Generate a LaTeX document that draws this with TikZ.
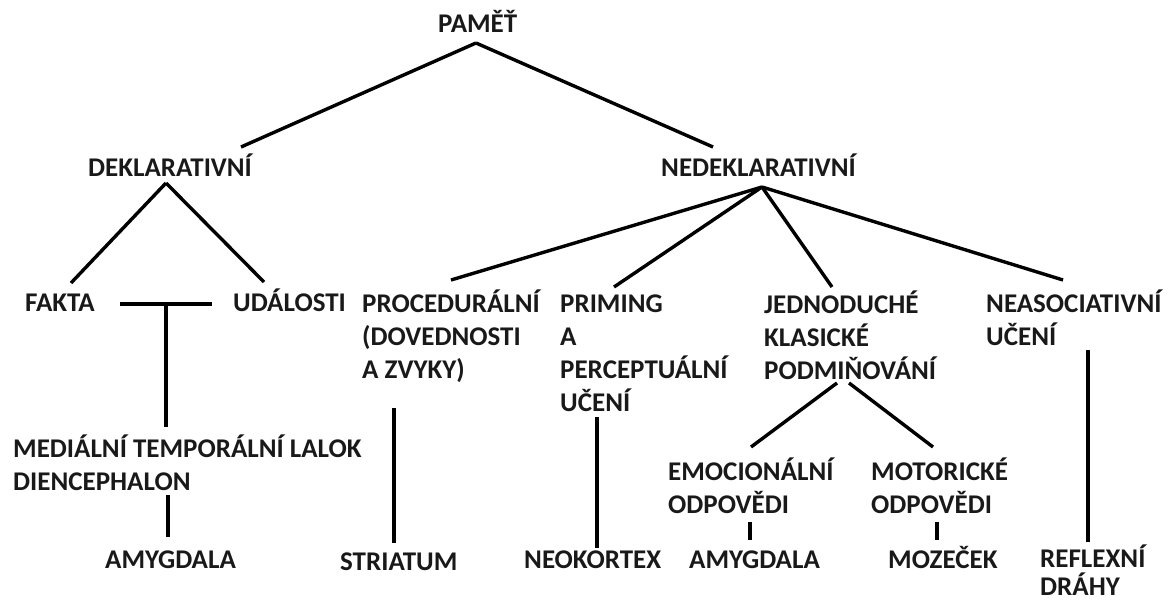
\documentclass[tikz,border=0pt]{standalone}
\usepackage{fontspec}
\setmainfont{Carlito}
\usetikzlibrary{calc}
\begin{document}
\begin{tikzpicture}[x=1pt,y=-1pt,
  lbl/.style={anchor=base west,inner sep=0pt,align=left,font=\fontsize{27}{33}\selectfont\bfseries,text=black!90},
  conn/.style={line width=3.4pt,black}]
\useasboundingbox (0,0) rectangle (1169,601);
% nodes (multi-line nodes are placed at the baseline of their last line)
\node[lbl] (pamet) at (438,33) {PAMĚŤ};
\node[lbl] (dekl) at (88,177) {DEKLARATIVNÍ};
\node[lbl] (nedekl) at (661,177) {NEDEKLARATIVNÍ};
\node[lbl] (fakta) at (25,312) {FAKTA};
\node[lbl] (udalosti) at (233,312) {UDÁLOSTI};
\node[lbl] (proc) at (362,378) {PROCEDURÁLNÍ\\(DOVEDNOSTI\\A ZVYKY)};
\node[lbl] (priming) at (560,411) {PRIMING\\A\\PERCEPTUÁLNÍ\\UČENÍ};
\node[lbl] (jedn) at (764,379) {JEDNODUCHÉ\\KLASICKÉ\\PODMIŇOVÁNÍ};
\node[lbl] (neasoc) at (986,345) {NEASOCIATIVNÍ\\UČENÍ};
\node[lbl] (mtl) at (13,490) {MEDIÁLNÍ TEMPORÁLNÍ LALOK\\DIENCEPHALON};
\node[lbl] (amyg1) at (105,568) {AMYGDALA};
\node[lbl] (striatum) at (340,570) {STRIATUM};
\node[lbl] (neokortex) at (524,568) {NEOKORTEX};
\node[lbl] (emoc) at (668,513) {EMOCIONÁLNÍ\\ODPOVĚDI};
\node[lbl] (amyg2) at (689,568) {AMYGDALA};
\node[lbl] (motor) at (871,513) {MOTORICKÉ\\ODPOVĚDI};
\node[lbl] (mozecek) at (888,568) {MOZEČEK};
\node[lbl] (reflex) at (1040,595) {REFLEXNÍ\\[-5pt]DRÁHY};
% junction points
\coordinate (pa) at ($(pamet.base west)+(38,10)$);
\coordinate (da) at ($(dekl.base west)+(78,6)$);
\coordinate (na) at ($(nedekl.base west)+(101,10)$);
\coordinate (fu) at ($(fakta.base west)+(141,-8)$);
% connectors
\draw[conn] (pa) -- ($(dekl.base west)+(153,-30)$);
\draw[conn] (pa) -- ($(nedekl.base west)+(52,-30)$);
\draw[conn] (da) -- ($(fakta.base west)+(46,-29)$);
\draw[conn] (da) -- ($(udalosti.base west)+(31,-30)$);
\draw[conn] ($(fakta.base east)+(25,-8)$) -- ($(udalosti.base west)+(-21,-8)$);
\draw[conn] (fu) -- ($(mtl.base west)+(153,-63)$);
\draw[conn] ($(mtl.base west)+(155,5)$) -- ($(amyg1.base west)+(63,-31)$);
\draw[conn] (na) -- ($(proc.base west)+(89,-98)$);
\draw[conn] (na) -- ($(priming.base west)+(54,-124)$);
\draw[conn] (na) -- ($(jedn.base west)+(68,-92)$);
\draw[conn] (na) -- ($(neasoc.base west)+(77,-65)$);
\draw[conn] ($(proc.base west)+(32,30)$) -- ($(striatum.base west)+(54,-27)$);
\draw[conn] ($(priming.base west)+(37,6)$) -- ($(neokortex.base west)+(73,-20)$);
\draw[conn] ($(jedn.base west)+(73,4)$) -- ($(emoc.base west)+(83,-66)$);
\draw[conn] ($(jedn.base west)+(85,4)$) -- ($(motor.base west)+(62,-66)$);
\draw[conn] ($(emoc.base west)+(82,9)$) -- ($(amyg2.base west)+(61,-28)$);
\draw[conn] ($(motor.base west)+(66,9)$) -- ($(mozecek.base west)+(49,-28)$);
\draw[conn] ($(neasoc.base west)+(102,5)$) -- ($(reflex.base west)+(48,-53)$);
\end{tikzpicture}
\end{document}
